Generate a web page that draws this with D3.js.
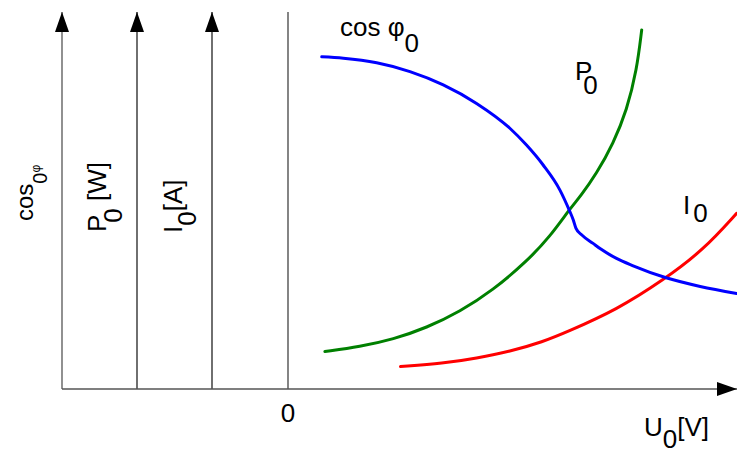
<!DOCTYPE html>
<html>
<head>
<meta charset="utf-8">
<script src="https://cdn.jsdelivr.net/npm/d3@7"></script>
<style>
    body { margin: 0; background: #fff; }
    text { font-family: "Liberation Sans", Arial, sans-serif; fill: #000; }
</style>
</head>
<body>
<div id="chart"></div>
<script>
// values, U0 and y both in arbitrary 0..100 units
var cosU = [7.5, 12.3, 19.7, 27.1, 34.5, 41.9, 49.3, 53, 56.7, 60.4, 62.5, 63.4, 64, 65.3, 67.8, 69.6, 73, 76.7, 84.2, 91.6, 99.7];
var cosV = [94.9, 94.5, 93.2, 90.7, 86.9, 81.6, 74.5, 69.7, 64, 56.9, 51.1, 48.3, 45.9, 44, 41.6, 39.9, 37.3, 35.2, 31.7, 29.3, 27.3];

var powU = [8.2, 16, 23.4, 30.8, 38.2, 45.6, 53, 58.2, 62.7, 64.9, 68.6, 72.3, 75.3, 77.5, 78.6];
var powV = [10.7, 12.1, 14.2, 17.5, 22.1, 28.3, 36.4, 43.5, 51.6, 54.9, 61.6, 70.2, 79.7, 91.1, 102.6];

var curU = [25, 34.5, 41.9, 49.3, 56.7, 62, 73, 83.4, 92.3, 99.7];
var curV = [6.4, 7.3, 8.8, 10.7, 13.5, 16.3, 22.6, 31.1, 39.7, 50.2];

var width = 737,
    height = 450,
    baseY = 389,
    topY = 12,
    axesX = [62, 137, 212];

var svg = d3.select('#chart')
    .append('svg')
    .attr('width', width)
    .attr('height', height);

var x = d3.scaleLinear().domain([0, 100]).range([288, 738]);
var y = d3.scaleLinear().domain([0, 100]).range([baseY, 39]);

// arrow heads
var defs = svg.append('defs');
defs.append('marker')
    .attr('id', 'arrow')
    .attr('viewBox', '0 0 20 14')
    .attr('refX', 20)
    .attr('refY', 7)
    .attr('markerWidth', 20)
    .attr('markerHeight', 14)
    .attr('markerUnits', 'userSpaceOnUse')
    .attr('orient', 'auto')
    .append('path')
    .attr('d', 'M0,0L20,7L0,14Z')
    .style('fill', '#000');

// vertical axes with arrows
var a;
for (a = 0; a < axesX.length; a += 1) {
    svg.append('line')
        .attr('x1', axesX[a]).attr('y1', baseY)
        .attr('x2', axesX[a]).attr('y2', topY)
        .attr('marker-end', 'url(#arrow)')
        .style('stroke', a === 0 ? '#555' : '#222')
        .style('stroke-width', 1.3);
}

// zero line
svg.append('line')
    .attr('x1', x(0)).attr('y1', baseY)
    .attr('x2', x(0)).attr('y2', topY)
    .style('stroke', '#333')
    .style('stroke-width', 1.2);

// horizontal axis
svg.append('line')
    .attr('x1', axesX[0]).attr('y1', baseY)
    .attr('x2', 737).attr('y2', baseY)
    .attr('marker-end', 'url(#arrow)')
    .style('stroke', '#555')
    .style('stroke-width', 1.3);

// curves
function addCurve(us, vs, color, curve) {
    var line = d3.line()
        .x(function (d) { return x(d[0]); })
        .y(function (d) { return y(d[1]); })
        .curve(curve);
    svg.append('path')
        .datum(d3.zip(us, vs))
        .attr('d', line)
        .style('fill', 'none')
        .style('stroke', color)
        .style('stroke-width', 3)
        .style('stroke-linecap', 'round');
}

addCurve(powU, powV, '#008000', d3.curveBasis);
addCurve(curU, curV, '#ff0000', d3.curveBasis);
addCurve(cosU, cosV, '#0000ff', d3.curveMonotoneX);

// labels with subscripts
function addLabel(px, py, parts, rotate) {
    var t = svg.append('text')
        .attr('x', px)
        .attr('y', py)
        .style('font-size', '26px');
    if (rotate) {
        t.attr('transform', 'rotate(-90,' + px + ',' + py + ')');
    }
    parts.forEach(function (p) {
        var s = t.append('tspan').text(p.t);
        if (p.dy) { s.attr('dy', p.dy); }
        if (p.dx) { s.attr('dx', p.dx); }
        if (p.size) { s.style('font-size', p.size); }
    });
}

addLabel(340, 36, [{t: 'cos φ'}, {t: '0', dy: 16}]);
addLabel(575, 80, [{t: 'P'}, {t: '0', dy: 14, dx: -9}]);
addLabel(683, 214, [{t: 'I'}, {t: '0', dy: 8, dx: 3}]);
addLabel(644, 436, [{t: 'U'}, {t: '0', dy: 12}, {t: '[V]', dy: -12}]);

svg.append('text')
    .attr('x', x(0))
    .attr('y', 422)
    .attr('text-anchor', 'middle')
    .style('font-size', '26px')
    .text('0');

addLabel(33, 221, [{t: 'cos', size: '24px'}, {t: '0', dy: 14, size: '20px'}, {t: 'φ', dy: -7, size: '12px'}], true);
addLabel(106, 232, [{t: 'P'}, {t: '0', dy: 16, dx: -8}, {t: ' [W]', dy: -16}], true);
addLabel(182, 233, [{t: 'I'}, {t: '0', dy: 14}, {t: '[A]', dy: -14}], true);
</script>
</body>
</html>
